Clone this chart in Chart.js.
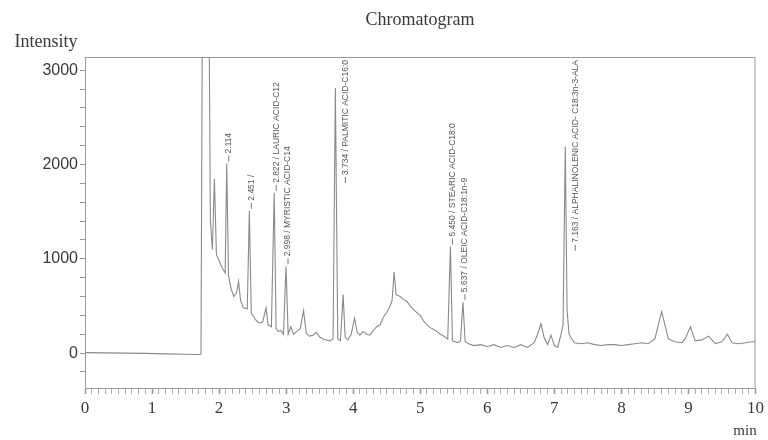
<!DOCTYPE html>
<html>
<head>
<meta charset="utf-8">
<script src="https://cdn.jsdelivr.net/npm/chart.js@4.4.0/dist/chart.umd.min.js"></script>
<style>
  html, body { margin: 0; padding: 0; background: #fff; }
  #wrap { position: relative; width: 768px; height: 440px; }
</style>
</head>
<body>
<div id="wrap"><canvas id="chromo"></canvas></div>
<script>
// retention time (min) and detector intensity
const times = [
  0, 0.3, 0.6, 0.9, 1.2, 1.5, 1.7, 1.73, 1.75, 1.85, 1.87, 1.9, 1.93, 1.96,
  2.0, 2.05, 2.09, 2.114, 2.14, 2.18, 2.22, 2.26, 2.29, 2.32, 2.36, 2.42, 2.451, 2.48,
  2.52, 2.56, 2.6, 2.65, 2.7, 2.73, 2.78, 2.822, 2.85, 2.88, 2.92, 2.96, 2.998, 3.03,
  3.07, 3.11, 3.16, 3.21, 3.26, 3.3, 3.35, 3.4, 3.45, 3.5, 3.55, 3.6, 3.65, 3.7,
  3.734, 3.77, 3.81, 3.85, 3.88, 3.92, 3.97, 4.02, 4.06, 4.1, 4.15, 4.2, 4.25, 4.3,
  4.35, 4.4, 4.45, 4.5, 4.55, 4.58, 4.61, 4.64, 4.7, 4.75, 4.8, 4.85, 4.9, 4.95,
  5.0, 5.05, 5.1, 5.15, 5.2, 5.25, 5.3, 5.35, 5.41, 5.45, 5.48, 5.52, 5.56, 5.6,
  5.637, 5.67, 5.72, 5.8, 5.9, 6.0, 6.1, 6.2, 6.3, 6.4, 6.5, 6.6, 6.7, 6.75,
  6.8, 6.85, 6.9, 6.95, 7.0, 7.05, 7.1, 7.13, 7.163, 7.19, 7.22, 7.26, 7.3, 7.4,
  7.5, 7.6, 7.7, 7.8, 7.9, 8.0, 8.1, 8.2, 8.3, 8.4, 8.5, 8.55, 8.6, 8.65,
  8.7, 8.8, 8.9, 8.95, 9.03, 9.1, 9.2, 9.3, 9.4, 9.5, 9.58, 9.65, 9.75, 9.85,
  9.95, 10.0
];
const intensity = [
  5, 3, 0, -3, -8, -12, -15, -10, 3600, 3600, 1400, 1100, 1850, 1050,
  980, 900, 850, 2010, 820, 680, 600, 640, 760, 560, 480, 470, 1510, 420,
  380, 340, 320, 330, 480, 300, 280, 1700, 260, 230, 240, 200, 920, 200,
  280, 200, 230, 260, 450, 210, 180, 190, 220, 170, 150, 140, 130, 150,
  2810, 150, 130, 620, 170, 140, 200, 370, 220, 190, 230, 200, 190, 240,
  280, 300, 380, 430, 500, 560, 860, 620, 600, 570, 550, 500, 460, 430,
  400, 340, 300, 270, 250, 230, 200, 180, 150, 1130, 130, 120, 110, 130,
  540, 120, 100, 80, 90, 70, 90, 60, 80, 60, 90, 60, 110, 200,
  310, 160, 90, 190, 80, 60, 200, 300, 2190, 450, 200, 150, 110, 100,
  110, 90, 80, 90, 90, 80, 90, 100, 110, 100, 150, 300, 440, 300,
  150, 120, 110, 150, 280, 130, 140, 180, 100, 120, 200, 110, 100, 110,
  120, 120
];

// named peaks
const peakTimes = [2.114, 2.451, 2.822, 2.998, 3.734, 5.450, 5.637, 7.163];
const peakLabels = [
  '2.114',
  '2.451 /',
  '2.822 / LAURIC ACID-C12',
  '2.998 / MYRISTIC ACID-C14',
  '3.734 / PALMITIC ACID-C16:0',
  '5.450 / STEARIC ACID-C18:0',
  '5.637 / OLEIC ACID-C18:1n-9',
  '7.163 / ALPHALINOLENIC ACID- C18:3n-3-ALA'
];

const yLabelValues = [0, 1000, 2000, 3000];

const COL = {
  trace: '#8a8a8a',
  axis:  '#9a9a9a',
  text:  '#3a3a3a',
  label: '#555',
};

function peakHeight(t) {
  let best = -Infinity;
  times.forEach((tt, i) => {
    if (Math.abs(tt - t) < 0.02 && intensity[i] > best) best = intensity[i];
  });
  return best;
}

/* ─── frame, titles and peak labels ─────────────────────────────── */
const framePlugin = {
  id: 'frame',
  afterDraw(chart) {
    const { ctx, chartArea: a } = chart;
    ctx.save();
    ctx.strokeStyle = COL.axis;
    ctx.lineWidth = 1;
    ctx.beginPath();
    ctx.moveTo(a.left, a.top + 0.5);
    ctx.lineTo(a.right - 0.5, a.top + 0.5);
    ctx.lineTo(a.right - 0.5, a.bottom);
    ctx.stroke();

    ctx.fillStyle = COL.text;
    ctx.textBaseline = 'middle';
    ctx.textAlign = 'center';
    ctx.font = '18px "Liberation Serif", serif';
    ctx.fillText('Chromatogram', 420, 20);
    ctx.fillText('Intensity', 46, 42);
    ctx.font = '15px "Liberation Serif", serif';
    ctx.fillText('min', 745, 431);
    ctx.restore();
  }
};

const peakLabelPlugin = {
  id: 'peakLabels',
  afterDatasetsDraw(chart) {
    const { ctx, chartArea: a, scales: { x, y } } = chart;
    ctx.save();
    ctx.font = '8.5px "Liberation Sans", sans-serif';
    ctx.fillStyle = COL.label;
    ctx.strokeStyle = COL.label;
    ctx.lineWidth = 0.8;
    ctx.textBaseline = 'middle';
    ctx.textAlign = 'left';
    peakTimes.forEach((t, i) => {
      const label = peakLabels[i];
      const w = ctx.measureText(label).width;
      const px = x.getPixelForValue(t);
      let base = y.getPixelForValue(peakHeight(t)) - 2;
      let lx = px + 2;
      if (base - 8 - w < a.top + 3) {   // no room above peak -> beside it
        lx = px + 10;
        base = a.top + 3 + w + 8;
      }
      ctx.beginPath();
      ctx.moveTo(lx, base);
      ctx.lineTo(lx, base - 6);
      ctx.stroke();
      ctx.save();
      ctx.translate(lx, base - 8);
      ctx.rotate(-Math.PI / 2);
      ctx.fillText(label, 0, 0);
      ctx.restore();
    });
    ctx.restore();
  }
};

new Chart(document.getElementById('chromo'), {
  type: 'line',
  data: {
    datasets: [{
      data: times.map((t, i) => ({ x: t, y: intensity[i] })),
      borderColor: COL.trace,
      borderWidth: 1.1,
      pointRadius: 0,
      tension: 0,
      fill: false,
    }]
  },
  options: {
    responsive: true, maintainAspectRatio: false,
    animation: false,
    layout: { padding: { top: 57, right: 11, left: 0, bottom: 0 } },
    plugins: {
      legend: { display: false },
      tooltip: { enabled: false },
      title: { display: false },
    },
    scales: {
      x: {
        type: 'linear',
        min: 0, max: 10,
        afterFit: s => { s.height = 52; },
        border: { display: true, color: COL.axis, width: 1 },
        grid: {
          drawOnChartArea: false,
          drawTicks: true,
          tickLength: 6,
          color: COL.axis,
          tickWidth: c => (Math.abs(c.tick.value - Math.round(c.tick.value)) < 1e-6 ? 1.6 : 0.8),
        },
        ticks: {
          stepSize: 0.1,
          autoSkip: false,
          maxRotation: 0,
          padding: 4,
          color: COL.text,
          font: { family: '"Liberation Serif", serif', size: 17 },
          callback: v => (Math.abs(v - Math.round(v)) < 1e-6 ? String(Math.round(v)) : ''),
        }
      },
      y: {
        type: 'linear',
        min: -370, max: 3140,
        afterFit: s => { s.width = 85; },
        border: { display: true, color: COL.axis, width: 1 },
        grid: {
          drawOnChartArea: false,
          drawTicks: true,
          tickLength: 5,
          color: COL.axis,
        },
        ticks: {
          stepSize: 200,
          includeBounds: false,
          autoSkip: false,
          padding: 2,
          color: COL.text,
          font: { family: '"Liberation Sans", sans-serif', size: 16 },
          callback: v => (yLabelValues.includes(v) ? String(v) : ''),
        }
      }
    }
  },
  plugins: [framePlugin, peakLabelPlugin]
});
</script>
</body>
</html>
